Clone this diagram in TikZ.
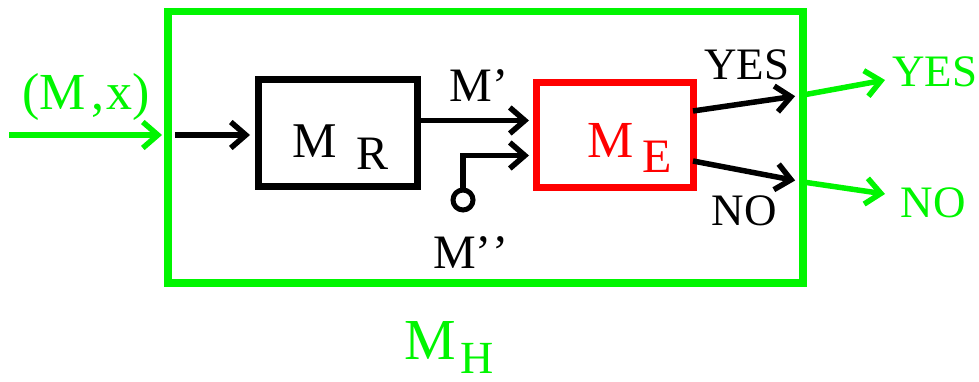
\documentclass[tikz,border=0pt]{standalone}
\usepackage{fontspec}
\setmainfont{Liberation Serif}
\usetikzlibrary{arrows.meta,positioning}
\definecolor{haltgreen}{RGB}{0,245,0}
\definecolor{haltred}{RGB}{255,0,0}
\tikzset{
  flow/.style={line width=5.5pt,-{Straight Barb[length=15pt,width=26pt]}},
  gflow/.style={flow,draw=haltgreen},
  machine/.style={draw,line width=7.5pt,inner sep=0pt,outer sep=0pt},
  lbl/.style={anchor=base,inner sep=0pt,font=\fontsize{45}{45}\selectfont}
}

\begin{document}
\begin{tikzpicture}[x=1pt,y=-1pt]
  \useasboundingbox (0,0) rectangle (979,382);
  % boxes
  \node[machine,draw=haltgreen,minimum width=635,minimum height=271.5] (mh) at (485.5,147.25) {};
  \node[machine,minimum width=159,minimum height=107] (mr) at (338,133) {};
  \node[machine,draw=haltred,line width=7pt,minimum width=157,minimum height=105] (me) at (614.5,135.5) {};
  \node[draw,circle,line width=5pt,minimum size=20,inner sep=0pt,outer sep=0pt] (mpp) at (463,200) {};
  % texts
  \node[lbl,anchor=base west,font=\fontsize{50}{50}\selectfont] (mrtext) at (292,158) {M\hspace{19.5pt}\raisebox{-12pt}{\fontsize{48}{48}\selectfont R}};
  \node[lbl,anchor=base west,font=\fontsize{52}{52}\selectfont,text=haltred] (metext) at (587,158) {M\hspace{9pt}\raisebox{-14pt}{\fontsize{48}{48}\selectfont E}};
  \node[lbl,anchor=base west,font=\fontsize{58}{58}\selectfont,text=haltgreen] (mhtext) at (404,359) {M\hspace{5pt}\raisebox{-14pt}{\fontsize{46}{46}\selectfont H}};
  \node[lbl,text=haltgreen,font=\fontsize{52}{52}\selectfont] (input) at (86,110) {(M\hspace{6pt},\hspace{2pt}x)};
  \node[lbl,font=\fontsize{48}{48}\selectfont] (mptext) at (479,102) {M’};
  \node[lbl,font=\fontsize{48}{48}\selectfont] (mpptext) at (471,268) {M’\hspace{1pt}’};
  \node[lbl] (yes) at (747,80) {YES};
  \node[lbl] (no) at (744,225) {NO};
  \node[lbl,text=haltgreen] (gyes) at (935,87) {YES};
  \node[lbl,text=haltgreen] (gno) at (933,217) {NO};
  % ports
  \coordinate (src) at (9,135);
  \coordinate (mpin) at ([yshift=15pt]me.west);
  \coordinate (mppin) at ([yshift=-20pt]me.west);
  \coordinate (yesport) at (mh.east |- 0,95);
  \coordinate (noport) at (mh.east |- 0,182);
  \coordinate (yesend) at (885,80);
  \coordinate (noend) at (885,194);
  % connectors
  \draw[gflow,shorten >=6pt] (src) -- (src -| mh.west);
  \draw[flow,shorten <=7pt,shorten >=8.5pt] (src -| mh.west) -- (src -| mr.west);
  \draw[flow,shorten >=7pt] (mr.east |- mpin) -- (mpin);
  \draw[flow,shorten >=7pt] (mpp.north) |- (mppin);
  \draw[flow,shorten >=8pt] ([yshift=24.5pt]me.east) -- (yesport);
  \draw[flow,shorten >=8pt] ([yshift=-25.5pt]me.east) -- (noport);
  \draw[gflow] (yesport) -- (yesend);
  \draw[gflow] (noport) -- (noend);
\end{tikzpicture}
\end{document}
